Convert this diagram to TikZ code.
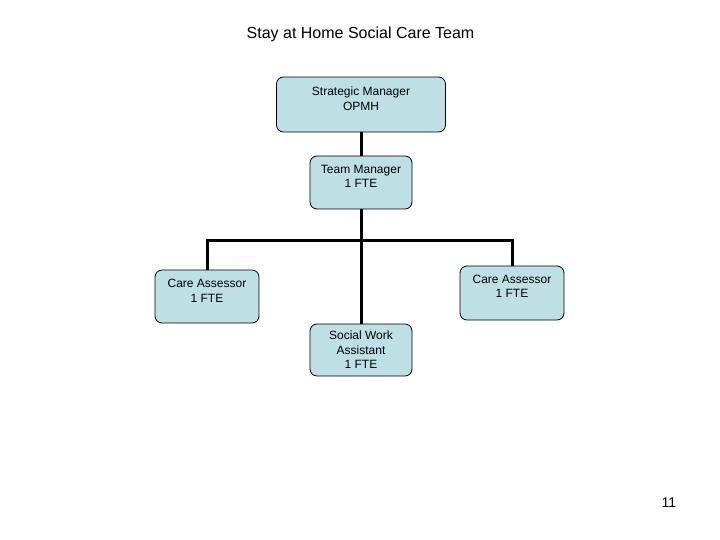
\documentclass[tikz,border=0pt]{standalone}
\usepackage{fontspec}
\setmainfont{Liberation Sans}
\usetikzlibrary{positioning}
\definecolor{boxfill}{RGB}{190,224,228}

\begin{document}
\begin{tikzpicture}[x=1pt,y=-1pt,line width=3pt,
  post/.style={draw,fill=boxfill,line width=0.8pt,rounded corners=7pt,inner sep=0pt},
  words/.style={align=center,font=\fontsize{12}{14.5}\selectfont}]
  \useasboundingbox[fill=white] (0,0) rectangle (720,540);
  \node[font=\fontsize{16}{19}\selectfont] (title) at (360.5,34){Stay at Home Social Care Team};
  \node[post,minimum width=169pt,minimum height=55pt,
    label={[words,yshift=6pt]center:Strategic Manager\\OPMH}] (strat) at (361,104.5){};
  \node[post,minimum width=102pt,minimum height=53pt,
    label={[words,yshift=6pt]center:Team Manager\\1 FTE}] (team) at (361,182.5){};
  \node[post,minimum width=104pt,minimum height=53pt,
    label={[words,yshift=5.5pt]center:Care Assessor\\1 FTE}] (assessL) at (207,296.5){};
  \node[post,minimum width=104pt,minimum height=54pt,
    label={[words,yshift=6.5pt]center:Care Assessor\\1 FTE}] (assessR) at (512,293){};
  \node[post,minimum width=102pt,minimum height=52pt,
    label={[words]center:Social Work\\Assistant\\1 FTE}] (swa) at (361,350){};
  \coordinate (bar) at (361,240);
  \draw (strat.south) -- (team.north);
  \draw (team.south) -- (swa.north);
  \draw (assessL.north) |- (bar) -| (assessR.north);
  \node[font=\fontsize{14}{16}\selectfont] (page) at (669,503){11};
\end{tikzpicture}
\end{document}
